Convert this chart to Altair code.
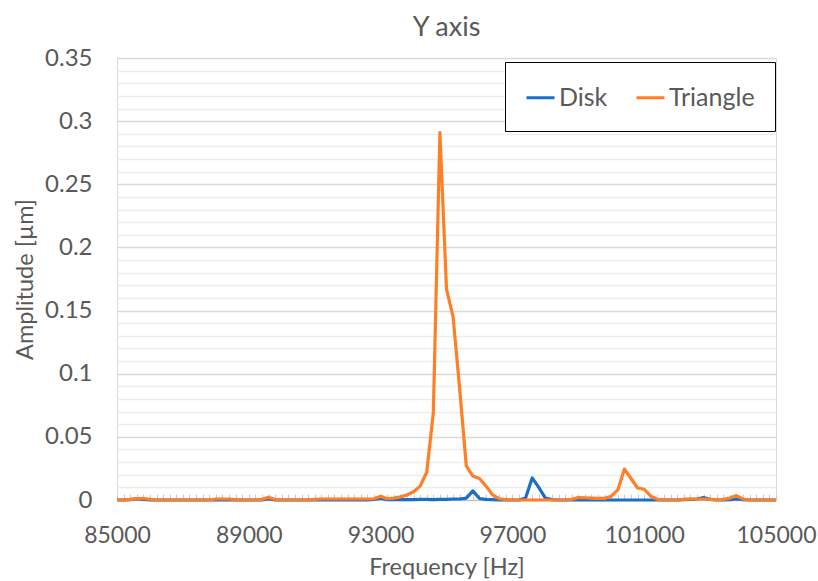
import altair as alt
import pandas as pd

# Frequency grid (Hz), 200 Hz sampling from 85000 to 105000
frequencies = list(range(85000, 105001, 200))

disk = [
    0, 0, 0.0003, 0.001, 0.0005, 0, 0, 0, 0, 0,
    0, 0, 0, 0, 0, 0, 0, 0, 0, 0,
    0, 0, 0, 0.001, 0, 0, 0, 0, 0, 0,
    0, 0, 0, 0, 0, 0, 0, 0, 0, 0.0005,
    0.0015, 0.0003, 0.0003, 0.0003, 0.0003, 0.0003, 0.0005, 0.0005, 0.0003, 0.0005,
    0.0005, 0.0008, 0.0008, 0.0015, 0.0072, 0.0012, 0.0005, 0.0003, 0, 0,
    0, 0, 0.0015, 0.0175, 0.010, 0.0015, 0.0003, 0, 0, 0,
    0, 0, 0, 0, 0, 0, 0, 0, 0, 0,
    0, 0, 0, 0, 0, 0, 0.0003, 0.0005, 0.0008, 0.002,
    0.0005, 0, 0, 0.0003, 0.0008, 0.0003, 0, 0, 0, 0,
    0,
]

triangle = [
    0, 0, 0.0005, 0.0012, 0.0012, 0.0005, 0, 0, 0, 0,
    0, 0, 0, 0, 0, 0.0008, 0.0008, 0.0008, 0.0003, 0,
    0, 0, 0.0005, 0.0022, 0.0003, 0, 0, 0, 0, 0,
    0.0005, 0.0008, 0.0008, 0.0008, 0.0008, 0.0008, 0.0008, 0.0008, 0.0008, 0.001,
    0.003, 0.001, 0.0015, 0.0025, 0.004, 0.0065, 0.011, 0.022, 0.069, 0.291,
    0.167, 0.145, 0.088, 0.027, 0.019, 0.017, 0.011, 0.004, 0.001, 0.0003,
    0, 0, 0, 0, 0, 0, 0, 0, 0, 0.0005,
    0.002, 0.0018, 0.0015, 0.0013, 0.0013, 0.003, 0.008, 0.0245, 0.017, 0.0095,
    0.0085, 0.003, 0.0005, 0, 0, 0, 0.0005, 0.0008, 0.0008, 0.0008,
    0.0005, 0.0003, 0.0005, 0.0015, 0.0035, 0.0008, 0, 0, 0, 0,
    0,
]

series_names = ["Disk", "Triangle"]
series_colors = ["#1A6FC8", "#FF7F27"]
x_label_values = [85000, 89000, 93000, 97000, 101000, 105000]
y_grid_values = [round(0.01 * i, 2) for i in range(36)]

df = pd.DataFrame({
    "Frequency": frequencies * 2,
    "Amplitude": disk + triangle,
    "Series": ["Disk"] * len(disk) + ["Triangle"] * len(triangle),
})

x_scale = alt.Scale(domain=[85000, 105000], nice=False, zero=False)
y_scale = alt.Scale(domain=[0, 0.35], nice=False)
TXT = "#595959"

# invisible layer that carries the small tick marks along the bottom edge
ticks_layer = alt.Chart(df).mark_point(opacity=0).encode(
    x=alt.X("Frequency:Q", scale=x_scale, axis=alt.Axis(
        orient="top", offset=-442, values=frequencies, labels=False,
        domain=False, grid=False, ticks=True, tickSize=6,
        tickColor="#CCCCCC", tickWidth=1, title=None)),
)

lines = alt.Chart(df).mark_line(strokeWidth=3.2, strokeJoin="round").encode(
    x=alt.X("Frequency:Q", scale=x_scale, axis=alt.Axis(
        orient="bottom", values=x_label_values, format="d", ticks=False,
        grid=False, domain=True, domainColor="#BFBFBF", labelPadding=24,
        labelFlush=False, labelFontSize=23, labelColor=TXT,
        title="Frequency [Hz]", titleFontSize=23.5, titleColor=TXT,
        titleFontWeight="normal", titlePadding=8)),
    y=alt.Y("Amplitude:Q", scale=y_scale, axis=alt.Axis(
        values=y_grid_values, ticks=False, domain=False,
        labelExpr="round(datum.value*100) % 5 == 0 ? '' + round(datum.value*100)/100 : ''",
        labelFontSize=24, labelColor=TXT, labelPadding=25,
        gridColor={"condition": {"test": "round(datum.value*100) % 5 == 0", "value": "#D9D9D9"},
                   "value": "#EDEDED"},
        gridWidth=1.3,
        title="Amplitude [µm]", titleFontSize=23.5, titleColor=TXT,
        titleFontWeight="normal", titlePadding=7)),
    color=alt.Color("Series:N", scale=alt.Scale(domain=series_names, range=series_colors),
                    legend=alt.Legend(
                        orient="none", legendX=388, legendY=4, direction="horizontal",
                        title=None, symbolType="stroke", symbolSize=784,
                        symbolStrokeWidth=3, labelFontSize=25, labelColor=TXT,
                        labelOffset=3, columnPadding=22, padding=20,
                        strokeColor="black", fillColor="white", cornerRadius=0)),
)

chart = alt.layer(ticks_layer, lines).resolve_axis(x="independent").resolve_scale(x="shared").properties(
    width=659, height=442,
    title=alt.TitleParams("Y axis", fontSize=27, color=TXT, fontWeight="normal",
                          anchor="middle", offset=4),
    autosize=alt.AutoSizeParams(type="none"),
    padding={"left": 117, "top": 58, "right": 42, "bottom": 81},
    background="white",
).configure(font="Lato").configure_view(stroke="#D9D9D9", strokeWidth=1)

chart.save("out.html", embed_options={"renderer": "svg", "actions": False})
